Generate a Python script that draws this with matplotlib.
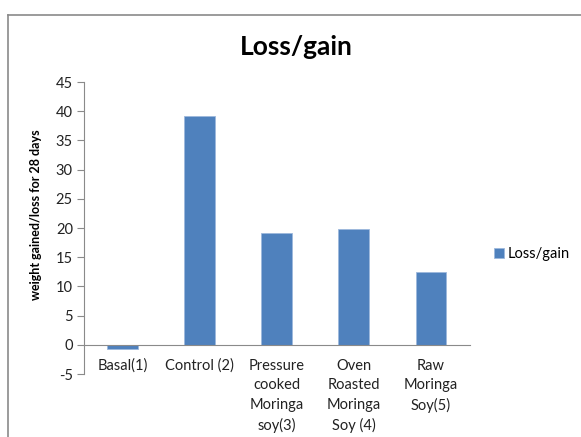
import matplotlib.pyplot as plt
from matplotlib.lines import Line2D

categories = ["Basal(1)", "Control (2)", "Pressure\ncooked\nMoringa\nsoy(3)",
              "Oven\nRoasted\nMoringa\nSoy (4)", "Raw\nMoringa\nSoy(5)"]
loss_gain = [-0.7, 39.2, 19.2, 19.8, 12.4]
y_ticks = [-5, 0, 5, 10, 15, 20, 25, 30, 35, 40, 45]

plt.rcParams['font.family'] = ['Lato', 'DejaVu Sans']
plt.rcParams['axes.unicode_minus'] = False

W, H = 581, 437
fig = plt.figure(figsize=(W / 100, H / 100), dpi=100)
ax = fig.add_axes([84 / W, 1 - 374 / H, (469.5 - 84) / W, (374 - 82) / H])

x = list(range(len(categories)))
ax.bar(x, loss_gain, width=0.4, color='#4F81BD', edgecolor='#9DB8DC', linewidth=0.6,
       label='Loss/gain', zorder=2)

ax.set_xlim(-0.5, len(categories) - 0.5)
ax.set_ylim(-5, 45)
ax.set_yticks(y_ticks)
ax.set_xticks(x)
ax.set_xticklabels([''] * len(categories))

# category labels sit just under the zero line, with Excel-like line spacing
for xi, name in zip(x, categories):
    ax.annotate(name, xy=(xi, 0), xycoords='data', xytext=(0, -10),
                textcoords='offset points', ha='center', va='top',
                fontsize=10.5, color='#222222', linespacing=1.5, annotation_clip=False)

for s in ['top', 'right']:
    ax.spines[s].set_visible(False)
ax.spines['bottom'].set_position(('data', 0))
ax.spines['bottom'].set_color('#8a8a8a')
ax.spines['left'].set_color('#8a8a8a')
ax.tick_params(axis='x', length=0)
ax.tick_params(axis='y', length=5, color='#8a8a8a', labelsize=10.5, labelcolor='#222222', pad=3)

ax.set_ylabel("weight gained/loss for 28 days", fontsize=9, fontweight='bold')
ax.yaxis.set_label_coords(-42 / (469.5 - 84), (374 - 215) / (374 - 82))
fig.text(296 / W, 1 - 47 / H, "Loss/gain", fontsize=19, fontweight='bold',
         ha='center', va='center')

fig.legend(loc='center left', bbox_to_anchor=(484 / W, 1 - 254 / H), frameon=False,
           fontsize=10.5, handlelength=0.65, handleheight=0.65, handletextpad=0.25,
           borderpad=0.2)

# outer chart frame (only top and left edges visible in the crop)
fig.add_artist(Line2D([8 / W, 1], [1 - 15 / H, 1 - 15 / H], color='#8a8a8a', lw=1.2))
fig.add_artist(Line2D([8 / W, 8 / W], [0, 1 - 15 / H], color='#8a8a8a', lw=1.2))

fig.savefig('out.png', dpi=100)
